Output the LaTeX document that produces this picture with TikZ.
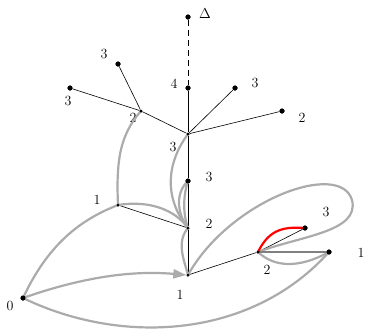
\documentclass[tikz,border=0pt]{standalone}
\usetikzlibrary{arrows.meta}
\begin{document}
\begin{tikzpicture}[x=1pt,y=-1pt,
  dot/.style={circle,fill=black,inner sep=0pt,minimum size=5pt},
  sdot/.style={circle,fill=black,inner sep=0pt,minimum size=3pt},
  edge/.style={black,line width=0.6pt},
  gcurve/.style={draw=black!33,line width=2.2pt},
  lbl/.style={font=\fontsize{14}{16}\selectfont,inner sep=0pt}]
\useasboundingbox (0,0) rectangle (366,330);
% nodes
\node[dot] (D) at (188,17) {};
\node[dot] (F) at (188,88) {};
\node[sdot] (C) at (188,134) {};
\node[sdot] (A) at (141,111) {};
\node[dot] (a1) at (118,64) {};
\node[dot] (a2) at (70,88) {};
\node[dot] (c1) at (235,88) {};
\node[dot] (c2) at (282,111) {};
\node[dot] (T3) at (188,181) {};
\node[sdot] (T2) at (188,228) {};
\node[sdot] (L1) at (118,205) {};
\node[sdot] (B) at (188,275) {};
\node[dot] (O) at (23,298) {};
\node[sdot] (R2) at (258,252) {};
\node[dot] (R3) at (305,228) {};
\node[dot] (R1) at (329,252) {};
% labels
\node[lbl] (lD) at (205,14) {$\Delta$};
\node[lbl] (lF) at (174,84) {4};
\node[lbl] (lC) at (173,147) {3};
\node[lbl] (lA) at (133,118) {2};
\node[lbl] (la1) at (104,54) {3};
\node[lbl] (la2) at (68,101) {3};
\node[lbl] (lc1) at (255,83) {3};
\node[lbl] (lc2) at (302,118) {2};
\node[lbl] (lT3) at (209,177) {3};
\node[lbl] (lT2) at (209,224) {2};
\node[lbl] (lL1) at (97,200) {1};
\node[lbl] (lB) at (180,295) {1};
\node[lbl] (lO) at (10,306) {0};
\node[lbl] (lR2) at (267,270) {2};
\node[lbl] (lR3) at (326,212) {3};
\node[lbl] (lR1) at (361,253) {1};
% black tree edges
\draw[edge,dashed,dash pattern=on 6pt off 4pt] (D) -- (F);
\draw[edge] (F) -- (C);
\draw[edge] (C) -- (A);
\draw[edge] (A) -- (a1);
\draw[edge] (A) -- (a2);
\draw[edge] (C) -- (c1);
\draw[edge] (C) -- (c2);
\draw[edge] (C) -- (T3);
\draw[edge] (T3) -- (T2);
\draw[edge] (T2) -- (B);
\draw[edge] (L1) -- (T2);
\draw[edge] (B) -- (R2);
\draw[edge] (R2) -- (R3);
% gray curves
\draw[gcurve] (O.center) .. controls (50,240) and (85,218) .. (L1.center);
\draw[gcurve] (O.center) .. controls (120,345) and (250,340) .. (R1.center);
\draw[gcurve] (L1.center) .. controls (116,160) and (120,135) .. (A.center);
\draw[gcurve] (L1.center) .. controls (150,200) and (175,210) .. (T2.center);
\draw[gcurve] (C.center) .. controls (165,165) and (165,200) .. (T2.center);
\draw[gcurve] (T3.center) .. controls (176,192) and (176,212) .. (T2.center);
\draw[gcurve] (T3.center) .. controls (184,192) and (182,212) .. (T2.center);
\draw[gcurve] (T2.center) .. controls (176,242) and (184,260) .. (B.center);
\draw[gcurve] (B.center) .. controls (230,200) and (340,160) .. (352,200) .. controls (360,232) and (300,236) .. (R2.center);
\draw[gcurve] (R2.center) .. controls (275,268) and (300,268) .. (R1.center);
\draw[draw=black!50,line width=2pt] (R2.center) -- (R1.center);
\draw[gcurve,-{Triangle[length=13pt,width=9pt]}] (O.center) .. controls (80,278) and (130,270) .. (B.west);
\draw[red,line width=2.2pt] (R2.center) .. controls (268,232) and (280,226) .. (R3.center);
% redraw dots on top
\foreach \n in {D,F,a1,a2,c1,c2,T3,O,R3,R1} \fill (\n) circle (2.5pt);
\foreach \n in {C,A,T2,L1,B,R2} \fill (\n) circle (1.5pt);
\end{tikzpicture}
\end{document}
